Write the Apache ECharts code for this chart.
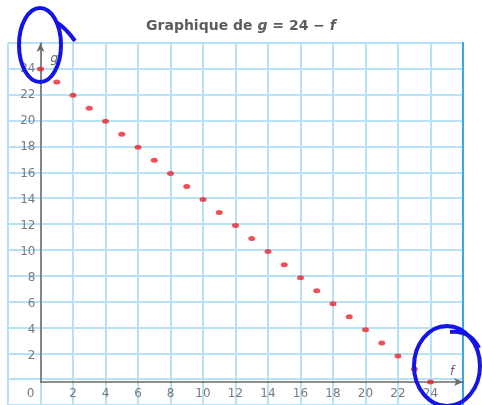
<!DOCTYPE html>
<html>
<head>
<meta charset="utf-8">
<script src="https://cdn.jsdelivr.net/npm/echarts@6/dist/echarts.min.js"></script>
<style>
  html, body { margin: 0; padding: 0; background: #fff; }
  #main { width: 482px; height: 405px; }
</style>
</head>
<body>
<div id="main"></div>
<script>
// f values (x) and g = 24 - f (y)
const fValues = [0, 1, 2, 3, 4, 5, 6, 7, 8, 9, 10, 11, 12, 13, 14, 15, 16, 17, 18, 19, 20, 21, 22, 23, 24];
const gValues = [24, 23, 22, 21, 20, 19, 18, 17, 16, 15, 14, 13, 12, 11, 10, 9, 8, 7, 6, 5, 4, 3, 2, 1, 0];
const xTicks = [0, 2, 4, 6, 8, 10, 12, 14, 16, 18, 20, 22, 24];
const yTicks = [2, 4, 6, 8, 10, 12, 14, 16, 18, 20, 22, 24];

const points = fValues.map((f, i) => [f, gValues[i]]);
const gridBlue = '#b5e2f6';
const labelFont = 'DejaVu Sans';

const chart = echarts.init(document.getElementById('main'), null, { renderer: 'canvas' });

chart.setOption({
  animation: false,
  title: {
    text: 'Graphique de {i|g} = 24 \u2212 {i|f}',
    left: 'center',
    top: 14,
    textStyle: {
      fontFamily: labelFont,
      fontSize: 14,
      fontWeight: 'bold',
      color: '#5c5c5c',
      rich: {
        i: { fontFamily: labelFont, fontSize: 14, fontWeight: 'bold', fontStyle: 'italic', color: '#5c5c5c' }
      }
    }
  },
  grid: [
    // background squared paper
    { left: 8, right: 19, top: 43, bottom: -3 },
    // the plotted axes start at 0
    { left: 40.5, right: 19, top: 43, bottom: 23 }
  ],
  xAxis: [
    {
      gridIndex: 0, type: 'value', min: -2, max: 26, interval: 2,
      axisLine: { show: false }, axisTick: { show: false }, axisLabel: { show: false },
      splitLine: { show: true, lineStyle: { color: gridBlue, width: 2 } }
    },
    {
      gridIndex: 1, type: 'value', min: 0, max: 26, interval: 2,
      name: 'f', nameLocation: 'end', nameGap: -13,
      nameTextStyle: { fontFamily: labelFont, fontStyle: 'italic', fontSize: 12, color: '#666', verticalAlign: 'bottom', padding: [0, 0, 4, 0] },
      axisLine: { show: true, lineStyle: { color: '#6a6a6a', width: 1.5 }, symbol: ['none', 'arrow'], symbolSize: [6, 9] },
      axisTick: { show: false },
      splitLine: { show: false },
      axisLabel: {
        margin: 6,
        fontFamily: labelFont, fontSize: 12, color: '#7a7a7a',
        formatter: v => xTicks.includes(v) ? (v === 0 ? '{z|0}' : String(v)) : '',
        rich: { z: { fontFamily: labelFont, fontSize: 12, color: '#7a7a7a', padding: [0, 20, 0, 0] } }
      }
    }
  ],
  yAxis: [
    {
      gridIndex: 0, type: 'value', min: -2, max: 26, interval: 2, position: 'right',
      axisLine: { show: true, onZero: false, lineStyle: { color: '#3aa6e6', width: 2 } },
      axisTick: { show: false }, axisLabel: { show: false },
      splitLine: { show: true, lineStyle: { color: gridBlue, width: 2 } }
    },
    {
      gridIndex: 1, type: 'value', min: 0, max: 26, interval: 2,
      name: 'g', nameLocation: 'end', nameGap: -22,
      nameTextStyle: { fontFamily: labelFont, fontStyle: 'italic', fontSize: 12, color: '#666', align: 'left', padding: [0, 0, 0, 10] },
      axisLine: { show: true, lineStyle: { color: '#6a6a6a', width: 1.5 }, symbol: ['none', 'arrow'], symbolSize: [6, 9] },
      axisTick: { show: false },
      splitLine: { show: false },
      axisLabel: {
        margin: 5,
        fontFamily: labelFont, fontSize: 12, color: '#7a7a7a',
        formatter: v => yTicks.includes(v) ? String(v) : ''
      }
    }
  ],
  series: [
    {
      type: 'scatter',
      xAxisIndex: 1, yAxisIndex: 1,
      data: points,
      symbol: 'circle',
      symbolSize: [7, 5],
      itemStyle: { color: '#e8242c' },
      z: 5
    }
  ],
  graphic: [
    // hand-drawn blue loops on the scan
    { type: 'ellipse', shape: { cx: 40, cy: 45, rx: 21, ry: 37 }, style: { fill: 'none', stroke: '#1414e6', lineWidth: 4 }, z: 100 },
    { type: 'bezierCurve', shape: { x1: 56, y1: 22, x2: 75, y2: 41, cpx1: 66, cpy1: 28 }, style: { fill: 'none', stroke: '#1414e6', lineWidth: 4 }, z: 100 },
    { type: 'ellipse', shape: { cx: 447, cy: 366, rx: 33, ry: 40 }, style: { fill: 'none', stroke: '#1414e6', lineWidth: 4 }, z: 100 },
    { type: 'bezierCurve', shape: { x1: 450, y1: 332, x2: 479, y2: 348, cpx1: 470, cpy1: 330 }, style: { fill: 'none', stroke: '#1414e6', lineWidth: 4 }, z: 100 }
  ]
});
</script>
</body>
</html>
